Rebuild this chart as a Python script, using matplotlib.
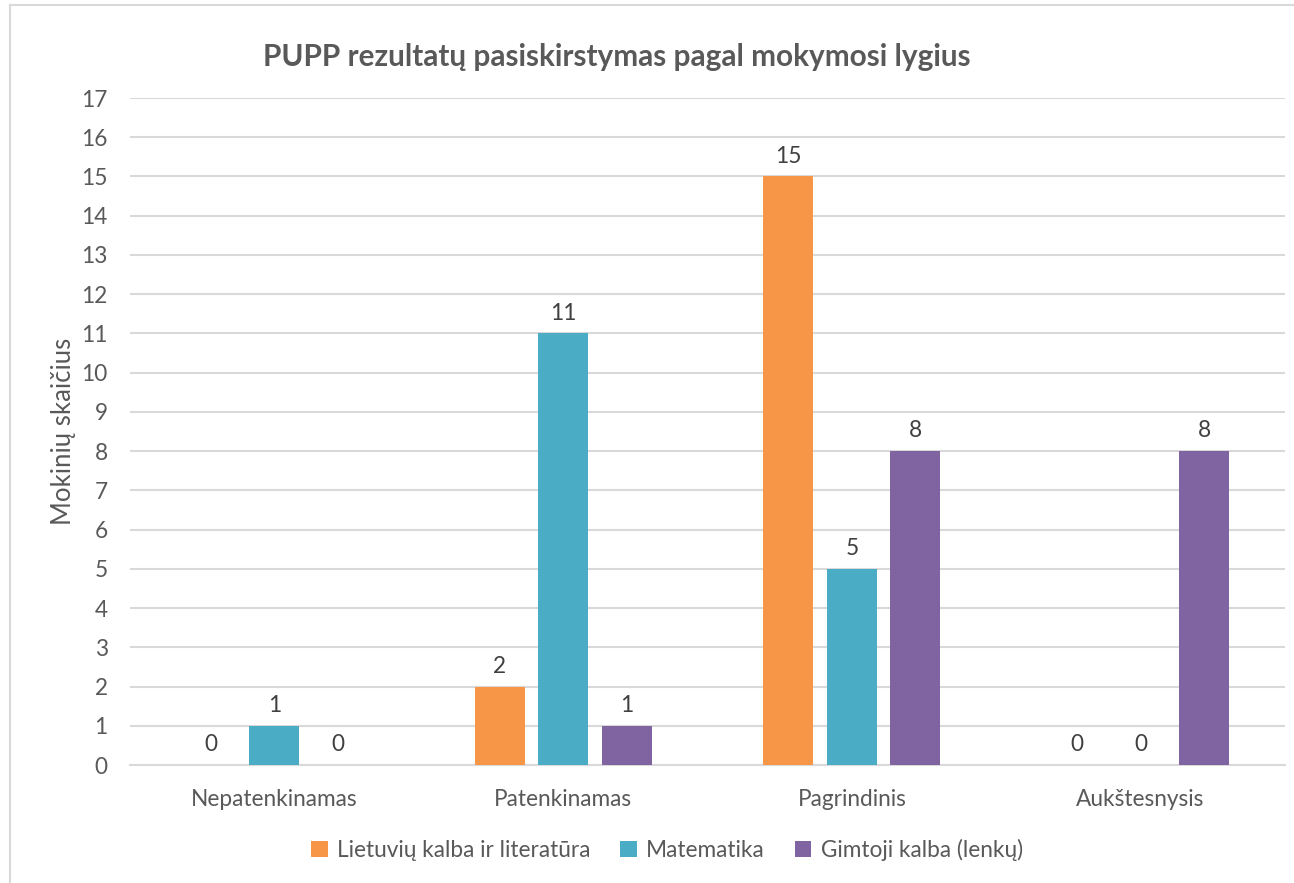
import numpy as np
import matplotlib.pyplot as plt

plt.rcParams['font.family'] = ['Lato', 'DejaVu Sans']

categories = ['Nepatenkinamas', 'Patenkinamas', 'Pagrindinis', 'Aukštesnysis']
series_names = ['Lietuvių kalba ir literatūra', 'Matematika', 'Gimtoji kalba (lenkų)']
lietuviu = [0, 2, 15, 0]
matematika = [1, 11, 5, 0]
gimtoji = [0, 1, 8, 8]
colors = ['#F79646', '#4BACC6', '#8064A2']
txt = '#595959'

fig = plt.figure(figsize=(12.94, 8.83), dpi=100)
ax = fig.add_axes([130 / 1294, 1 - 765 / 883, 1155 / 1294, 667 / 883])

x = np.arange(len(categories))
w = 0.173
step = 0.22
for i, (vals, name) in enumerate(zip([lietuviu, matematika, gimtoji], series_names)):
    bars = ax.bar(x + (i - 1) * step, vals, w, color=colors[i], label=name, zorder=3)
    ax.bar_label(bars, padding=7, fontsize=16.3, color='#404040')

ax.set_xlim(-0.5, 3.5)
ax.set_ylim(0, 17)
ax.set_yticks(range(0, 18))
ax.set_xticks(x)
ax.set_xticklabels(categories)
ax.tick_params(axis='both', length=0, labelsize=16.3, labelcolor=txt)
ax.tick_params(axis='y', pad=16)
ax.tick_params(axis='x', pad=17)
ax.grid(axis='y', color='#D9D9D9', linewidth=1.5, zorder=0)
for s in ['top', 'right', 'left']:
    ax.spines[s].set_visible(False)
ax.spines['bottom'].set_color('#D9D9D9')
ax.spines['bottom'].set_linewidth(1.5)

ax.set_ylabel('Mokinių skaičius', fontsize=18.5, color=txt, labelpad=4)
fig.text(617 / 1294, 1 - 57 / 883, 'PUPP rezultatų pasiskirstymas pagal mokymosi lygius',
         ha='center', va='center', fontsize=21.4, fontweight='bold', color=txt)

fig.legend(loc='center', bbox_to_anchor=(667 / 1294, 1 - 850 / 883), ncol=3, frameon=False,
           fontsize=16.3, labelcolor=txt, handlelength=0.75, handleheight=0.75,
           handletextpad=0.4, columnspacing=1.3)

# outer chart frame (only left and top edges are visible in the crop)
fig.add_artist(plt.Line2D([10 / 1294, 10 / 1294], [0, 1 - 5 / 883], transform=fig.transFigure,
                          color='#D9D9D9', linewidth=1.5))
fig.add_artist(plt.Line2D([10 / 1294, 1], [1 - 5 / 883, 1 - 5 / 883], transform=fig.transFigure,
                          color='#D9D9D9', linewidth=1.5))

fig.savefig('out.png', dpi=100)
